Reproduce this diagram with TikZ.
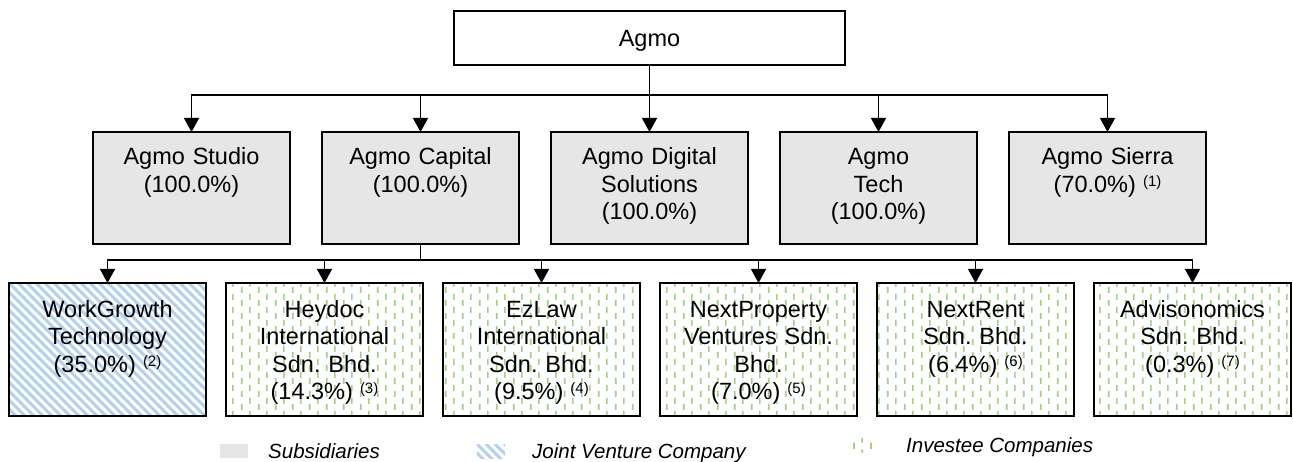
\documentclass[tikz,border=0pt]{standalone}
\usepackage{fontspec}
\setmainfont{Liberation Sans}
\usetikzlibrary{positioning}
\usetikzlibrary{arrows.meta}
\usetikzlibrary{patterns.meta}

\definecolor{subgray}{HTML}{E6E6E6}
\definecolor{jvblue}{HTML}{B4D0EC}
\definecolor{invgreen}{HTML}{A4CF88}

\pgfdeclarepattern{
  name=dashvert,
  type=uncolored,
  bottom left={\pgfpoint{0pt}{0pt}},
  top right={\pgfpoint{17pt}{13pt}},
  tile size={\pgfpoint{17pt}{13pt}},
  code={
    \pgfsetlinewidth{1.8pt}
    \pgfpathmoveto{\pgfpoint{4pt}{0pt}}\pgfpathlineto{\pgfpoint{4pt}{6.5pt}}
    \pgfpathmoveto{\pgfpoint{12.5pt}{6.5pt}}\pgfpathlineto{\pgfpoint{12.5pt}{13pt}}
    \pgfusepath{stroke}
  }}

\newcommand{\noteref}[1]{\hspace{0.3em}\raisebox{6pt}{\fontsize{15}{15}\selectfont(#1)}}

\tikzset{
  base/.style={draw, line width=1.8pt, outer sep=0pt, inner sep=0pt,
    font=\fontsize{23.5}{27.5}\selectfont\frenchspacing, text width=197pt, align=center},
  topbox/.style={draw, line width=2.2pt, outer sep=0pt, inner sep=0pt,
    minimum width=391pt, minimum height=54pt, text depth=0pt,
    font=\fontsize{23.5}{27.5}\selectfont},
  subbox/.style={base, fill=subgray, text height=33pt, text depth=79pt},
  jvfill/.style={path picture={
    \foreach \i in {-18,...,24}
      \draw[jvblue, line width=3.1pt] ([xshift=\i*9pt]path picture bounding box.north west) -- ++(160pt,-160pt);}},
  invfill/.style={pattern=dashvert, pattern color=invgreen},
  jvbox/.style={base, jvfill, text height=34pt, text depth=99pt},
  invbox/.style={base, invfill, text height=34pt, text depth=99pt},
  link/.style={line width=1.3pt, -{Triangle[width=15pt,length=14pt]}},
  keybox/.style={minimum width=28pt, minimum height=14pt, inner sep=0pt, outer sep=0pt},
  keytext/.style={font=\fontsize{20.5}{24}\selectfont\itshape, inner sep=0pt,
    text height=14.5pt, text depth=0pt},
}

\begin{document}
\begin{tikzpicture}[x=1pt,y=1pt]
\useasboundingbox (0,0) rectangle (1293,-462);

\node[topbox] (agmo) at (649.5,-38) {Agmo};

\node[subbox, anchor=north west] (studio) at (93,-132) {Agmo Studio\\(100.0\%)};
\node[subbox, right=32pt of studio] (capital) {Agmo Capital\\(100.0\%)};
\node[subbox, right=32pt of capital] (digital) {Agmo Digital\\Solutions\\(100.0\%)};
\node[subbox, right=32pt of digital] (tech) {Agmo\\Tech\\(100.0\%)};
\node[subbox, right=32pt of tech] (sierra) {Agmo Sierra\\(70.0\%)\noteref{1}};

\node[jvbox, anchor=north west] (workgrowth) at (9,-283) {WorkGrowth\\Technology\\(35.0\%)\noteref{2}};
\node[invbox, right=20pt of workgrowth] (heydoc) {Heydoc\\International\\Sdn. Bhd.\\(14.3\%)\noteref{3}};
\node[invbox, right=20pt of heydoc] (ezlaw) {EzLaw\\International\\Sdn. Bhd.\\(9.5\%)\noteref{4}};
\node[invbox, right=20pt of ezlaw] (nextproperty) {NextProperty\\Ventures Sdn.\\Bhd.\\(7.0\%)\noteref{5}};
\node[invbox, right=20pt of nextproperty] (nextrent) {NextRent\\Sdn. Bhd.\\(6.4\%)\noteref{6}};
\node[invbox, right=20pt of nextrent] (advisonomics) {Advisonomics\\Sdn. Bhd.\\(0.3\%)\noteref{7}};

\coordinate[below=30pt of agmo] (topbus);
\coordinate[below=16pt of capital] (lowbus);

\draw[link] (agmo) -- (digital);
\draw[link] (topbus) -| (studio);
\draw[link] (topbus) -| (capital);
\draw[link] (topbus) -| (tech);
\draw[link] (topbus) -| (sierra);

\draw[line width=1.3pt] (capital) -- (lowbus);
\draw[link] (lowbus) -| (workgrowth);
\draw[link] (lowbus) -| (heydoc);
\draw[link] (lowbus) -| (ezlaw);
\draw[link] (lowbus) -| (nextproperty);
\draw[link] (lowbus) -| (nextrent);
\draw[link] (lowbus) -| (advisonomics);

\node[keybox, fill=subgray, anchor=west] (keysub) at (220,-451) {};
\node[keytext, right=20pt of keysub] (keysubtext) {Subsidiaries};
\node[keybox, jvfill, anchor=west] (keyjv) at (477,-451) {};
\node[keytext, right=27pt of keyjv] (keyjvtext) {Joint Venture Company};
\node[keybox, invfill, anchor=west] (keyinv) at (850,-445) {};
\node[keytext, right=28pt of keyinv] (keyinvtext) {Investee Companies};
\end{tikzpicture}
\end{document}
